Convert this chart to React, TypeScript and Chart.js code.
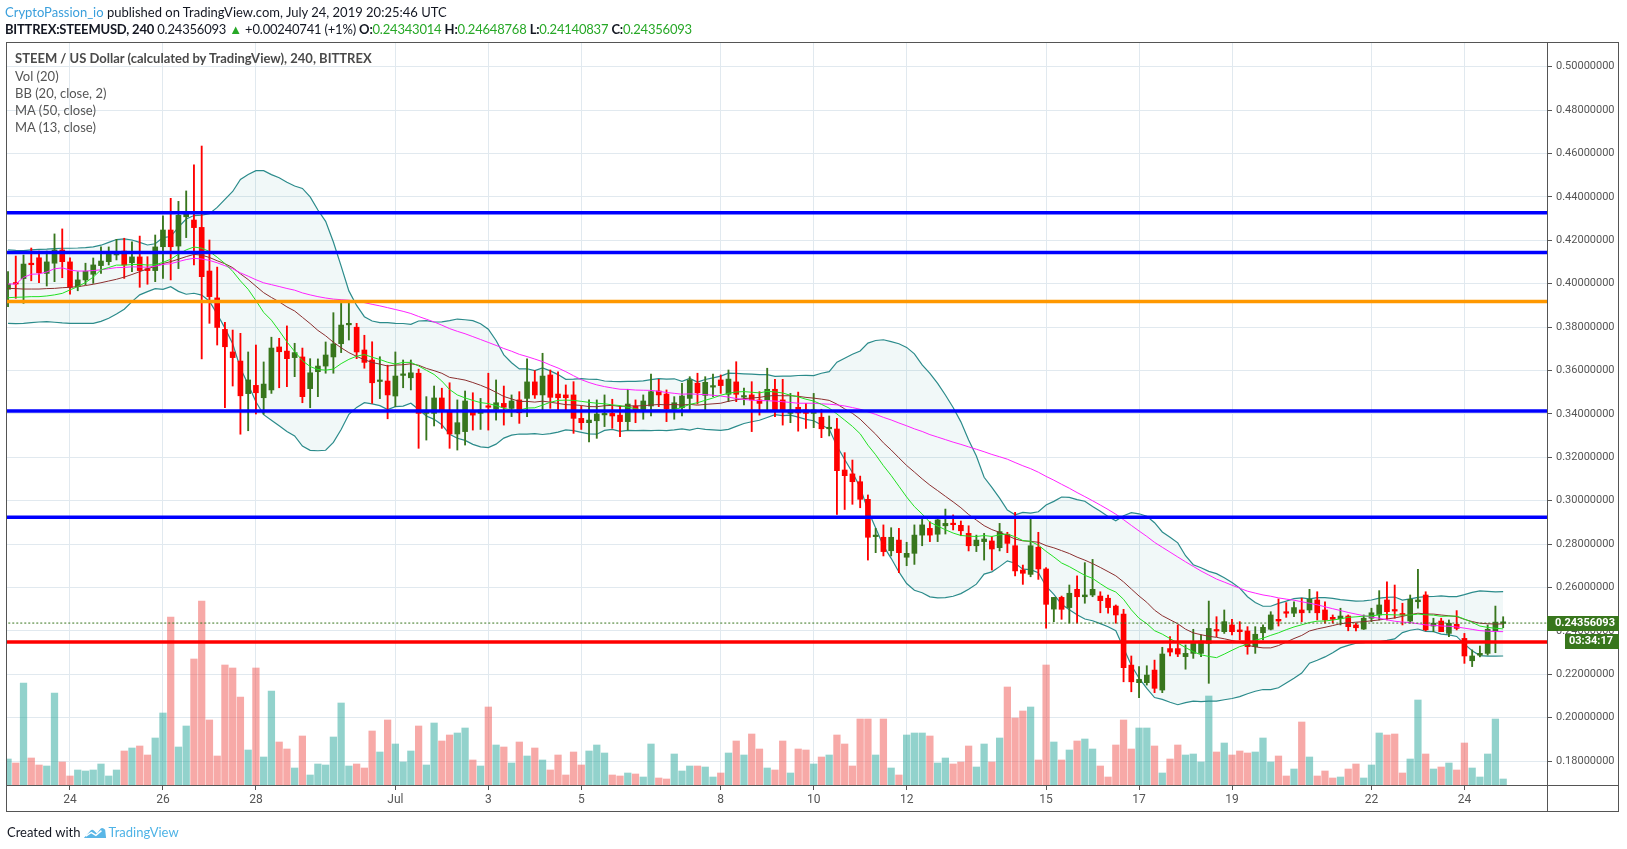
import { useEffect, useRef } from "react";
import { Chart, registerables } from "chart.js";

Chart.register(...registerables);

// ---- STEEM / USD 4h candles, June 22 16:00 -> July 24 20:00 (UTC) ----
const openPrices = [
  0.3974, 0.4004, 0.4023, 0.4094, 0.4119, 0.4047, 0.4094, 0.4155, 0.4100, 0.3986,
  0.4017, 0.4043, 0.4083, 0.4101, 0.4132, 0.4150, 0.4096, 0.4123, 0.4069, 0.4060,
  0.4170, 0.4247, 0.4173, 0.4308, 0.4293, 0.4259, 0.4058, 0.3934, 0.3789, 0.3685,
  0.3643, 0.3493, 0.3531, 0.3474, 0.3510, 0.3708, 0.3689, 0.3659, 0.3662, 0.3516,
  0.3594, 0.3620, 0.3662, 0.3723, 0.3810, 0.3799, 0.3694, 0.3648, 0.3549, 0.3551,
  0.3482, 0.3577, 0.3566, 0.3587, 0.3402, 0.3402, 0.3473, 0.3416, 0.3307, 0.3318,
  0.3410, 0.3402, 0.3436, 0.3421, 0.3448, 0.3425, 0.3464, 0.3471, 0.3547, 0.3487,
  0.3579, 0.3491, 0.3487, 0.3487, 0.3379, 0.3359, 0.3368, 0.3395, 0.3402, 0.3394,
  0.3364, 0.3436, 0.3413, 0.3436, 0.3505, 0.3491, 0.3422, 0.3428, 0.3471, 0.3541,
  0.3485, 0.3523, 0.3556, 0.3490, 0.3547, 0.3477, 0.3487, 0.3464, 0.3464, 0.3513,
  0.3464, 0.3402, 0.3430, 0.3418, 0.3402, 0.3384, 0.3331, 0.3330, 0.3141, 0.3123,
  0.3087, 0.3006, 0.2834, 0.2831, 0.2769, 0.2818, 0.2739, 0.2757, 0.2841, 0.2872,
  0.2845, 0.2884, 0.2895, 0.2886, 0.2849, 0.2792, 0.2811, 0.2814, 0.2783, 0.2845,
  0.2792, 0.2680, 0.2660, 0.2785, 0.2685, 0.2500, 0.2554, 0.2507, 0.2591, 0.2557,
  0.2565, 0.2560, 0.2550, 0.2514, 0.2477, 0.2242, 0.2161, 0.2161, 0.2219, 0.2127,
  0.2318, 0.2318, 0.2281, 0.2296, 0.2296, 0.2342, 0.2404, 0.2396, 0.2427, 0.2404,
  0.2399, 0.2327, 0.2391, 0.2407, 0.2453, 0.2483, 0.2481, 0.2496, 0.2496, 0.2542,
  0.2496, 0.2462, 0.2456, 0.2468, 0.2427, 0.2408, 0.2458, 0.2473, 0.2542, 0.2496,
  0.2477, 0.2445, 0.2534, 0.2565, 0.2422, 0.2445, 0.2388, 0.2430, 0.2365, 0.2262,
  0.2288, 0.2296, 0.2400, 0.24343014,
];
const highPrices = [
  0.4055, 0.4127, 0.4132, 0.4164, 0.4150, 0.4150, 0.4229, 0.4252, 0.4119, 0.4055,
  0.4094, 0.4118, 0.4169, 0.4169, 0.4204, 0.4209, 0.4193, 0.4219, 0.4124, 0.4224,
  0.4312, 0.4393, 0.4379, 0.4427, 0.4547, 0.4634, 0.4201, 0.4076, 0.3822, 0.3786,
  0.3771, 0.3685, 0.3717, 0.3639, 0.3753, 0.3748, 0.3805, 0.3725, 0.3703, 0.3654,
  0.3653, 0.3731, 0.3866, 0.3909, 0.3909, 0.3817, 0.3762, 0.3732, 0.3663, 0.3624,
  0.3685, 0.3648, 0.3648, 0.3606, 0.3479, 0.3528, 0.3518, 0.3543, 0.3464, 0.3505,
  0.3497, 0.3471, 0.3587, 0.3556, 0.3528, 0.3487, 0.3502, 0.3653, 0.3599, 0.3679,
  0.3602, 0.3594, 0.3533, 0.3548, 0.3436, 0.3464, 0.3464, 0.3487, 0.3467, 0.3436,
  0.3513, 0.3464, 0.3487, 0.3583, 0.3559, 0.3510, 0.3479, 0.3541, 0.3571, 0.3587,
  0.3571, 0.3583, 0.3579, 0.3602, 0.3640, 0.3518, 0.3548, 0.3502, 0.3610, 0.3559,
  0.3559, 0.3494, 0.3500, 0.3448, 0.3494, 0.3421, 0.3390, 0.3379, 0.3221, 0.3187,
  0.3113, 0.3026, 0.2872, 0.2888, 0.2875, 0.2872, 0.2808, 0.2888, 0.2918, 0.2903,
  0.2926, 0.2961, 0.2934, 0.2906, 0.2884, 0.2841, 0.2849, 0.2834, 0.2895, 0.2854,
  0.2946, 0.2703, 0.2914, 0.2854, 0.2691, 0.2554, 0.2560, 0.2611, 0.2653, 0.2714,
  0.2729, 0.2580, 0.2565, 0.2519, 0.2499, 0.2284, 0.2235, 0.2239, 0.2265, 0.2324,
  0.2373, 0.2427, 0.2335, 0.2407, 0.2381, 0.2537, 0.2465, 0.2496, 0.2453, 0.2442,
  0.2419, 0.2419, 0.2427, 0.2488, 0.2547, 0.2530, 0.2534, 0.2550, 0.2591, 0.2580,
  0.2534, 0.2473, 0.2504, 0.2473, 0.2435, 0.2473, 0.2504, 0.2585, 0.2626, 0.2611,
  0.2527, 0.2565, 0.2683, 0.2580, 0.2458, 0.2458, 0.2450, 0.2493, 0.2388, 0.2312,
  0.2330, 0.2427, 0.2514, 0.24648768,
];
const lowPrices = [
  0.3894, 0.3932, 0.3909, 0.4013, 0.4004, 0.3989, 0.4009, 0.4027, 0.3951, 0.3967,
  0.3994, 0.4001, 0.4047, 0.4086, 0.4109, 0.4024, 0.4055, 0.3983, 0.3997, 0.4009,
  0.4024, 0.4017, 0.4069, 0.4212, 0.4086, 0.3653, 0.3817, 0.3717, 0.3428, 0.3528,
  0.3306, 0.3322, 0.3399, 0.3398, 0.3494, 0.3520, 0.3525, 0.3571, 0.3451, 0.3428,
  0.3479, 0.3587, 0.3587, 0.3682, 0.3740, 0.3654, 0.3610, 0.3448, 0.3470, 0.3377,
  0.3433, 0.3520, 0.3510, 0.3241, 0.3279, 0.3344, 0.3333, 0.3241, 0.3233, 0.3256,
  0.3325, 0.3328, 0.3325, 0.3371, 0.3348, 0.3387, 0.3356, 0.3387, 0.3471, 0.3418,
  0.3425, 0.3418, 0.3418, 0.3310, 0.3328, 0.3271, 0.3287, 0.3341, 0.3333, 0.3295,
  0.3325, 0.3359, 0.3375, 0.3390, 0.3433, 0.3364, 0.3375, 0.3390, 0.3418, 0.3445,
  0.3418, 0.3479, 0.3494, 0.3456, 0.3456, 0.3441, 0.3318, 0.3394, 0.3410, 0.3387,
  0.3348, 0.3359, 0.3320, 0.3333, 0.3336, 0.3290, 0.3298, 0.2936, 0.2959, 0.2983,
  0.2967, 0.2726, 0.2760, 0.2745, 0.2745, 0.2668, 0.2700, 0.2706, 0.2792, 0.2811,
  0.2811, 0.2846, 0.2865, 0.2838, 0.2768, 0.2765, 0.2726, 0.2680, 0.2768, 0.2760,
  0.2653, 0.2614, 0.2649, 0.2637, 0.2412, 0.2442, 0.2453, 0.2435, 0.2435, 0.2527,
  0.2557, 0.2483, 0.2481, 0.2435, 0.2165, 0.2119, 0.2092, 0.2150, 0.2115, 0.2115,
  0.2284, 0.2281, 0.2223, 0.2273, 0.2281, 0.2158, 0.2373, 0.2388, 0.2381, 0.2358,
  0.2292, 0.2296, 0.2358, 0.2404, 0.2422, 0.2462, 0.2465, 0.2442, 0.2483, 0.2450,
  0.2435, 0.2435, 0.2427, 0.2400, 0.2400, 0.2406, 0.2442, 0.2450, 0.2450, 0.2458,
  0.2427, 0.2435, 0.2504, 0.2400, 0.2396, 0.2396, 0.2373, 0.2404, 0.2250, 0.2235,
  0.2280, 0.2288, 0.2299, 0.24140837,
];
const closePrices = [
  0.3998, 0.3998, 0.4090, 0.4087, 0.4050, 0.4100, 0.4155, 0.4101, 0.3983, 0.4017,
  0.4057, 0.4086, 0.4104, 0.4136, 0.4144, 0.4086, 0.4123, 0.4060, 0.4060, 0.4169,
  0.4247, 0.4170, 0.4315, 0.4321, 0.4258, 0.4032, 0.3940, 0.3798, 0.3709, 0.3659,
  0.3483, 0.3556, 0.3497, 0.3537, 0.3703, 0.3686, 0.3654, 0.3682, 0.3479, 0.3589,
  0.3620, 0.3671, 0.3722, 0.3809, 0.3813, 0.3685, 0.3637, 0.3543, 0.3551, 0.3487,
  0.3574, 0.3581, 0.3589, 0.3402, 0.3414, 0.3473, 0.3413, 0.3307, 0.3359, 0.3459,
  0.3394, 0.3418, 0.3430, 0.3451, 0.3430, 0.3459, 0.3405, 0.3547, 0.3487, 0.3574,
  0.3476, 0.3474, 0.3474, 0.3379, 0.3359, 0.3371, 0.3399, 0.3399, 0.3390, 0.3364,
  0.3445, 0.3410, 0.3459, 0.3502, 0.3487, 0.3422, 0.3451, 0.3482, 0.3556, 0.3497,
  0.3545, 0.3527, 0.3530, 0.3560, 0.3490, 0.3481, 0.3464, 0.3448, 0.3513, 0.3418,
  0.3418, 0.3418, 0.3404, 0.3402, 0.3418, 0.3331, 0.3336, 0.3138, 0.3115, 0.3087,
  0.3006, 0.2831, 0.2841, 0.2765, 0.2831, 0.2760, 0.2757, 0.2841, 0.2888, 0.2841,
  0.2911, 0.2895, 0.2889, 0.2861, 0.2792, 0.2818, 0.2823, 0.2777, 0.2857, 0.2803,
  0.2676, 0.2665, 0.2792, 0.2685, 0.2522, 0.2554, 0.2499, 0.2573, 0.2557, 0.2565,
  0.2591, 0.2539, 0.2507, 0.2473, 0.2230, 0.2165, 0.2176, 0.2196, 0.2135, 0.2293,
  0.2302, 0.2293, 0.2296, 0.2342, 0.2353, 0.2411, 0.2399, 0.2442, 0.2396, 0.2396,
  0.2327, 0.2384, 0.2416, 0.2473, 0.2445, 0.2481, 0.2507, 0.2483, 0.2545, 0.2483,
  0.2450, 0.2453, 0.2468, 0.2419, 0.2414, 0.2458, 0.2483, 0.2519, 0.2488, 0.2491,
  0.2473, 0.2545, 0.2542, 0.2404, 0.2435, 0.2396, 0.2435, 0.2411, 0.2284, 0.2284,
  0.2296, 0.2407, 0.2440, 0.24356093,
];
// relative volume per candle (arbitrary units)
const volumes = [
  26, 22, 102, 27, 20, 19, 92, 23, 9, 15,
  14, 15, 21, 9, 15, 34, 37, 39, 30, 47,
  72, 168, 38, 59, 126, 184, 65, 29, 120, 117,
  88, 35, 117, 28, 94, 43, 36, 17, 49, 10,
  21, 20, 48, 82, 19, 21, 17, 54, 33, 65,
  41, 23, 34, 59, 20, 62, 44, 50, 52, 57,
  25, 19, 78, 40, 38, 22, 43, 29, 37, 25,
  15, 30, 10, 33, 20, 34, 40, 32, 10, 9,
  12, 11, 8, 41, 7, 6, 31, 14, 19, 19,
  18, 8, 12, 32, 44, 30, 51, 36, 17, 15,
  44, 12, 36, 35, 21, 28, 30, 50, 41, 19,
  66, 66, 30, 66, 17, 10, 50, 52, 52, 49,
  22, 27, 21, 23, 39, 18, 41, 23, 47, 98,
  67, 74, 78, 25, 120, 43, 25, 35, 44, 46,
  36, 19, 8, 40, 65, 36, 57, 57, 39, 12,
  26, 40, 30, 31, 23, 89, 33, 42, 30, 34,
  32, 33, 47, 23, 29, 9, 16, 63, 28, 9,
  14, 7, 8, 16, 21, 7, 20, 52, 50, 51,
  12, 26, 85, 31, 16, 18, 22, 15, 42, 17,
  8, 31, 66, 6,
];

// indicator values before their windows are full
const bbUpperWarm = [0.4155, 0.4153, 0.4152, 0.4155, 0.4158, 0.4159, 0.4161, 0.4163, 0.4163, 0.4164, 0.4166, 0.4169, 0.4177, 0.4190, 0.4203, 0.4206, 0.4201, 0.4190, 0.4178];
const bbBasisWarm = [0.3978, 0.3977, 0.3975, 0.3975, 0.3975, 0.3977, 0.3978, 0.3981, 0.3983, 0.3986, 0.3991, 0.3997, 0.4004, 0.4012, 0.4020, 0.4030, 0.4042, 0.4055, 0.4068];
const bbLowerWarm = [0.3817, 0.3816, 0.3817, 0.3820, 0.3823, 0.3825, 0.3822, 0.3819, 0.3817, 0.3817, 0.3817, 0.3817, 0.3826, 0.3840, 0.3860, 0.3882, 0.3917, 0.3948, 0.3963];
const ma13Warm = [0.3935, 0.3937, 0.3938, 0.3940, 0.3940, 0.3943, 0.3948, 0.3955, 0.3971, 0.3986, 0.4005, 0.4030];

const dayTickIndex = [8, 20, 32, 50, 62, 74, 92, 104, 116, 134, 146, 158, 176, 188];
const dayTickLabels = ["24", "26", "28", "Jul", "3", "5", "8", "10", "12", "15", "17", "19", "22", "24"];
const priceTicks = [0.18, 0.2, 0.22, 0.24, 0.26, 0.28, 0.3, 0.32, 0.34, 0.36, 0.38, 0.4, 0.42, 0.44, 0.46, 0.48, 0.5];

const blueLevels = [0.4327, 0.4143, 0.3413, 0.2923];
const orangeLevels = [0.3918];
const redLevels = [0.2348];

const X_MIN = -0.132;
const X_MAX = 198.66;
const PRICE_MIN = 0.16894;
const PRICE_MAX = 0.51088;
const VOL_AXIS_MAX = 742;

const UP = "#38761d";
const DOWN = "#ff0000";

export default function App() {
  const canvasRef = useRef<HTMLCanvasElement | null>(null);

  useEffect(() => {
    const canvas = canvasRef.current;
    if (!canvas) return;
    const n = closePrices.length;
    const idx = closePrices.map((_, i) => i);
    const isUp = idx.map((i) => closePrices[i] >= openPrices[i]);
    const candleColors = isUp.map((u) => (u ? UP : DOWN));
    const volColors = isUp.map((u) => (u ? "rgba(38,166,154,0.5)" : "rgba(239,83,80,0.5)"));

    const bbBasis: number[] = [];
    const bbUp: number[] = [];
    const bbLow: number[] = [];
    const ma13: number[] = [];
    const ma50: number[] = [];
    for (let i = 0; i < n; i++) {
      if (i < 19) {
        bbBasis.push(bbBasisWarm[i]);
        bbUp.push(bbUpperWarm[i]);
        bbLow.push(bbLowerWarm[i]);
      } else {
        let s = 0;
        for (let k = i - 19; k <= i; k++) s += closePrices[k];
        const m = s / 20;
        let v = 0;
        for (let k = i - 19; k <= i; k++) v += (closePrices[k] - m) ** 2;
        const sd = Math.sqrt(v / 20);
        bbBasis.push(m);
        bbUp.push(m + 2 * sd);
        bbLow.push(m - 2 * sd);
      }
      if (i < 12) ma13.push(ma13Warm[i]);
      else {
        let s = 0;
        for (let k = i - 12; k <= i; k++) s += closePrices[k];
        ma13.push(s / 13);
      }
      const st = Math.max(0, i - 49);
      let s50 = 0;
      for (let k = st; k <= i; k++) s50 += closePrices[k];
      ma50.push(s50 / (i - st + 1));
    }

    const pts = (arr: number[]) => arr.map((v, i) => ({ x: i, y: v }));
    const hline = (v: number) => [
      { x: X_MIN - 5, y: v },
      { x: X_MAX + 5, y: v },
    ];
    const lastClose = closePrices[n - 1];

    const levelSets: any[] = [];
    blueLevels.forEach((v) =>
      levelSets.push({ type: "line", data: hline(v), borderColor: "#0000ff", borderWidth: 3.5, pointRadius: 0, clip: 0, order: 50 })
    );
    orangeLevels.forEach((v) =>
      levelSets.push({ type: "line", data: hline(v), borderColor: "#ff9800", borderWidth: 3.5, pointRadius: 0, clip: 0, order: 50 })
    );
    redLevels.forEach((v) =>
      levelSets.push({ type: "line", data: hline(v), borderColor: "#ff0000", borderWidth: 3.5, pointRadius: 0, clip: 0, order: 50 })
    );

    const framePlugin = {
      id: "frame",
      afterDraw(chart: any) {
        const { ctx, chartArea } = chart;
        const ys = chart.scales.y;
        const xs = chart.scales.x;
        ctx.save();
        ctx.strokeStyle = "#555";
        ctx.lineWidth = 1;
        const L = Math.round(chartArea.left) - 0.5;
        const T = Math.round(chartArea.top) - 0.5;
        const R = Math.round(ys.right) - 0.5;
        const B = Math.round(xs.bottom) - 0.5;
        ctx.strokeRect(L, T, R - L, B - T);
        ctx.beginPath();
        ctx.moveTo(Math.round(chartArea.right) + 0.5, T);
        ctx.lineTo(Math.round(chartArea.right) + 0.5, B);
        ctx.moveTo(L, Math.round(chartArea.bottom) + 0.5);
        ctx.lineTo(R, Math.round(chartArea.bottom) + 0.5);
        ctx.stroke();

        // last price label + countdown
        const py = ys.getPixelForValue(lastClose);
        const left = Math.round(chartArea.right);
        ctx.fillStyle = UP;
        ctx.fillRect(left, Math.round(py - 7.5), R - left + 0.5, 15);
        ctx.fillRect(left + 18, Math.round(py + 11), R - left - 17.5, 15);
        ctx.fillStyle = "#ffffff";
        ctx.font = "bold 11px Roboto, sans-serif";
        ctx.textBaseline = "middle";
        ctx.textAlign = "left";
        ctx.fillText(lastClose.toFixed(8), left + 8, py + 0.5);
        ctx.fillText("03:34:17", left + 22, py + 18.5);
        ctx.restore();
      },
    };

    const chart = new Chart(canvas, {
      type: "bar",
      data: {
        datasets: [
          {
            type: "bar",
            label: "Vol",
            data: idx.map((i) => ({ x: i, y: volumes[i] })),
            yAxisID: "yv",
            backgroundColor: volColors,
            barThickness: 6.6,
            grouped: false,
            order: 100,
          } as any,
          {
            type: "line",
            label: "BB upper",
            data: pts(bbUp),
            yAxisID: "y",
            borderColor: "#2b8b8b",
            borderWidth: 1.2,
            pointRadius: 0,
            fill: "+1",
            backgroundColor: "rgba(25,135,135,0.06)",
            order: 90,
          },
          {
            type: "line",
            label: "BB lower",
            data: pts(bbLow),
            yAxisID: "y",
            borderColor: "#2b8b8b",
            borderWidth: 1.2,
            pointRadius: 0,
            fill: false,
            order: 89,
          },
          {
            type: "bar",
            label: "wicks",
            data: idx.map((i) => ({ x: i, y: [lowPrices[i], highPrices[i]] })),
            yAxisID: "y",
            backgroundColor: candleColors,
            barThickness: 1.2,
            grouped: false,
            order: 80,
          } as any,
          {
            type: "bar",
            label: "bodies",
            data: idx.map((i) => ({
              x: i,
              y: [Math.min(openPrices[i], closePrices[i]), Math.max(openPrices[i], closePrices[i])],
            })),
            yAxisID: "y",
            backgroundColor: candleColors,
            barThickness: 5,
            minBarLength: 1.5,
            grouped: false,
            order: 79,
          } as any,
          {
            type: "line",
            label: "BB basis",
            data: pts(bbBasis),
            yAxisID: "y",
            borderColor: "#8b2f2f",
            borderWidth: 1,
            pointRadius: 0,
            order: 60,
          },
          {
            type: "line",
            label: "MA 50",
            data: pts(ma50),
            yAxisID: "y",
            borderColor: "#ff22ff",
            borderWidth: 1,
            pointRadius: 0,
            order: 59,
          },
          {
            type: "line",
            label: "MA 13",
            data: pts(ma13),
            yAxisID: "y",
            borderColor: "#22e022",
            borderWidth: 1,
            pointRadius: 0,
            order: 58,
          },
          ...levelSets,
          {
            type: "line",
            label: "last",
            data: hline(lastClose),
            yAxisID: "y",
            borderColor: UP,
            borderWidth: 1,
            borderDash: [2, 2],
            pointRadius: 0,
            clip: 0,
            order: 40,
          },
        ],
      },
      options: {
        responsive: false,
        animation: false,
        events: [],
        layout: { padding: { left: 7, top: 43, right: 8, bottom: 37 } },
        plugins: { legend: { display: false }, tooltip: { enabled: false } },
        scales: {
          x: {
            type: "linear",
            min: X_MIN,
            max: X_MAX,
            offset: false,
            afterBuildTicks: (scale: any) => {
              scale.ticks = dayTickIndex.map((v) => ({ value: v }));
            },
            afterFit: (scale: any) => {
              scale.height = 27;
            },
            grid: { color: "#e1e9ef", tickColor: "#555", tickLength: 5, offset: false },
            border: { display: true, color: "#555" },
            ticks: {
              autoSkip: false,
              maxRotation: 0,
              padding: 3,
              color: "#555",
              font: { family: "Roboto, sans-serif", size: 12 },
              callback: (_v: any, i: number) => dayTickLabels[i],
            },
          },
          y: {
            type: "linear",
            position: "right",
            min: PRICE_MIN,
            max: PRICE_MAX,
            afterBuildTicks: (scale: any) => {
              scale.ticks = priceTicks.map((v) => ({ value: v }));
            },
            afterFit: (scale: any) => {
              scale.width = 72;
            },
            grid: { color: "#e1e9ef", tickColor: "#555", tickLength: 5 },
            border: { display: true, color: "#555" },
            ticks: {
              padding: 4,
              color: "#555",
              font: { family: "Roboto, sans-serif", size: 11 },
              callback: (v: any) => Number(v).toFixed(8),
            },
          },
          yv: {
            type: "linear",
            display: false,
            min: 0,
            max: VOL_AXIS_MAX,
            grid: { display: false },
          },
        },
      } as any,
      plugins: [framePlugin],
    });

    return () => chart.destroy();
  }, []);

  const green = "#27a827";
  return (
    <div
      style={{
        position: "fixed",
        left: 0,
        top: 0,
        width: 1627,
        height: 849,
        background: "#ffffff",
        overflow: "hidden",
        fontFamily: "Lato, 'Open Sans', sans-serif",
        color: "#131722",
      }}
    >
      <canvas ref={canvasRef} width={1627} height={849} style={{ position: "absolute", left: 0, top: 0, width: 1627, height: 849 }} />
      <div style={{ position: "absolute", left: 5, top: 4, fontSize: 13, lineHeight: "17px", whiteSpace: "nowrap" }}>
        <span style={{ color: "#3a9fdc" }}>CryptoPassion_io</span> published on TradingView.com, July 24, 2019 20:25:46 UTC
      </div>
      <div style={{ position: "absolute", left: 5, top: 21, fontSize: 13, lineHeight: "17px", whiteSpace: "nowrap", letterSpacing: "-0.2px" }}>
        <b>BITTREX:STEEMUSD, 240</b> 0.24356093 <span style={{ color: green, fontSize: 13 }}>▲</span> +0.00240741 (+1%){" "}
        <b>O:</b>
        <span style={{ color: green }}>0.24343014</span> <b>H:</b>
        <span style={{ color: green }}>0.24648768</span> <b>L:</b>
        <span style={{ color: green }}>0.24140837</span> <b>C:</b>
        <span style={{ color: green }}>0.24356093</span>
      </div>
      <div style={{ position: "absolute", left: 15, top: 50, fontSize: 13, lineHeight: "17px", color: "#555", whiteSpace: "nowrap" }}>
        <div style={{ fontWeight: 700, color: "#4a4a4a", marginBottom: 1 }}>STEEM / US Dollar (calculated by TradingView), 240, BITTREX</div>
        <div>Vol (20)</div>
        <div>BB (20, close, 2)</div>
        <div>MA (50, close)</div>
        <div>MA (13, close)</div>
      </div>
      <div style={{ position: "absolute", left: 7, top: 823, fontSize: 13, lineHeight: "18px", display: "flex", alignItems: "center", whiteSpace: "nowrap" }}>
        <span>Created with</span>
        <svg width="24" height="15" viewBox="0 0 26 16" style={{ margin: "0 1px 0 3px" }}>
          <path d="M1 14 L8 6 Q10 4 12 6 L15 9 L19 4 Q21 2 24 5 L25 14 Z" fill="#5ab6e6" />
          <path d="M3 12 L9 8 L14 11 L20 6" stroke="#ffffff" strokeWidth="1.6" fill="none" />
        </svg>
        <span style={{ color: "#4eb3e6" }}>TradingView</span>
      </div>
    </div>
  );
}
